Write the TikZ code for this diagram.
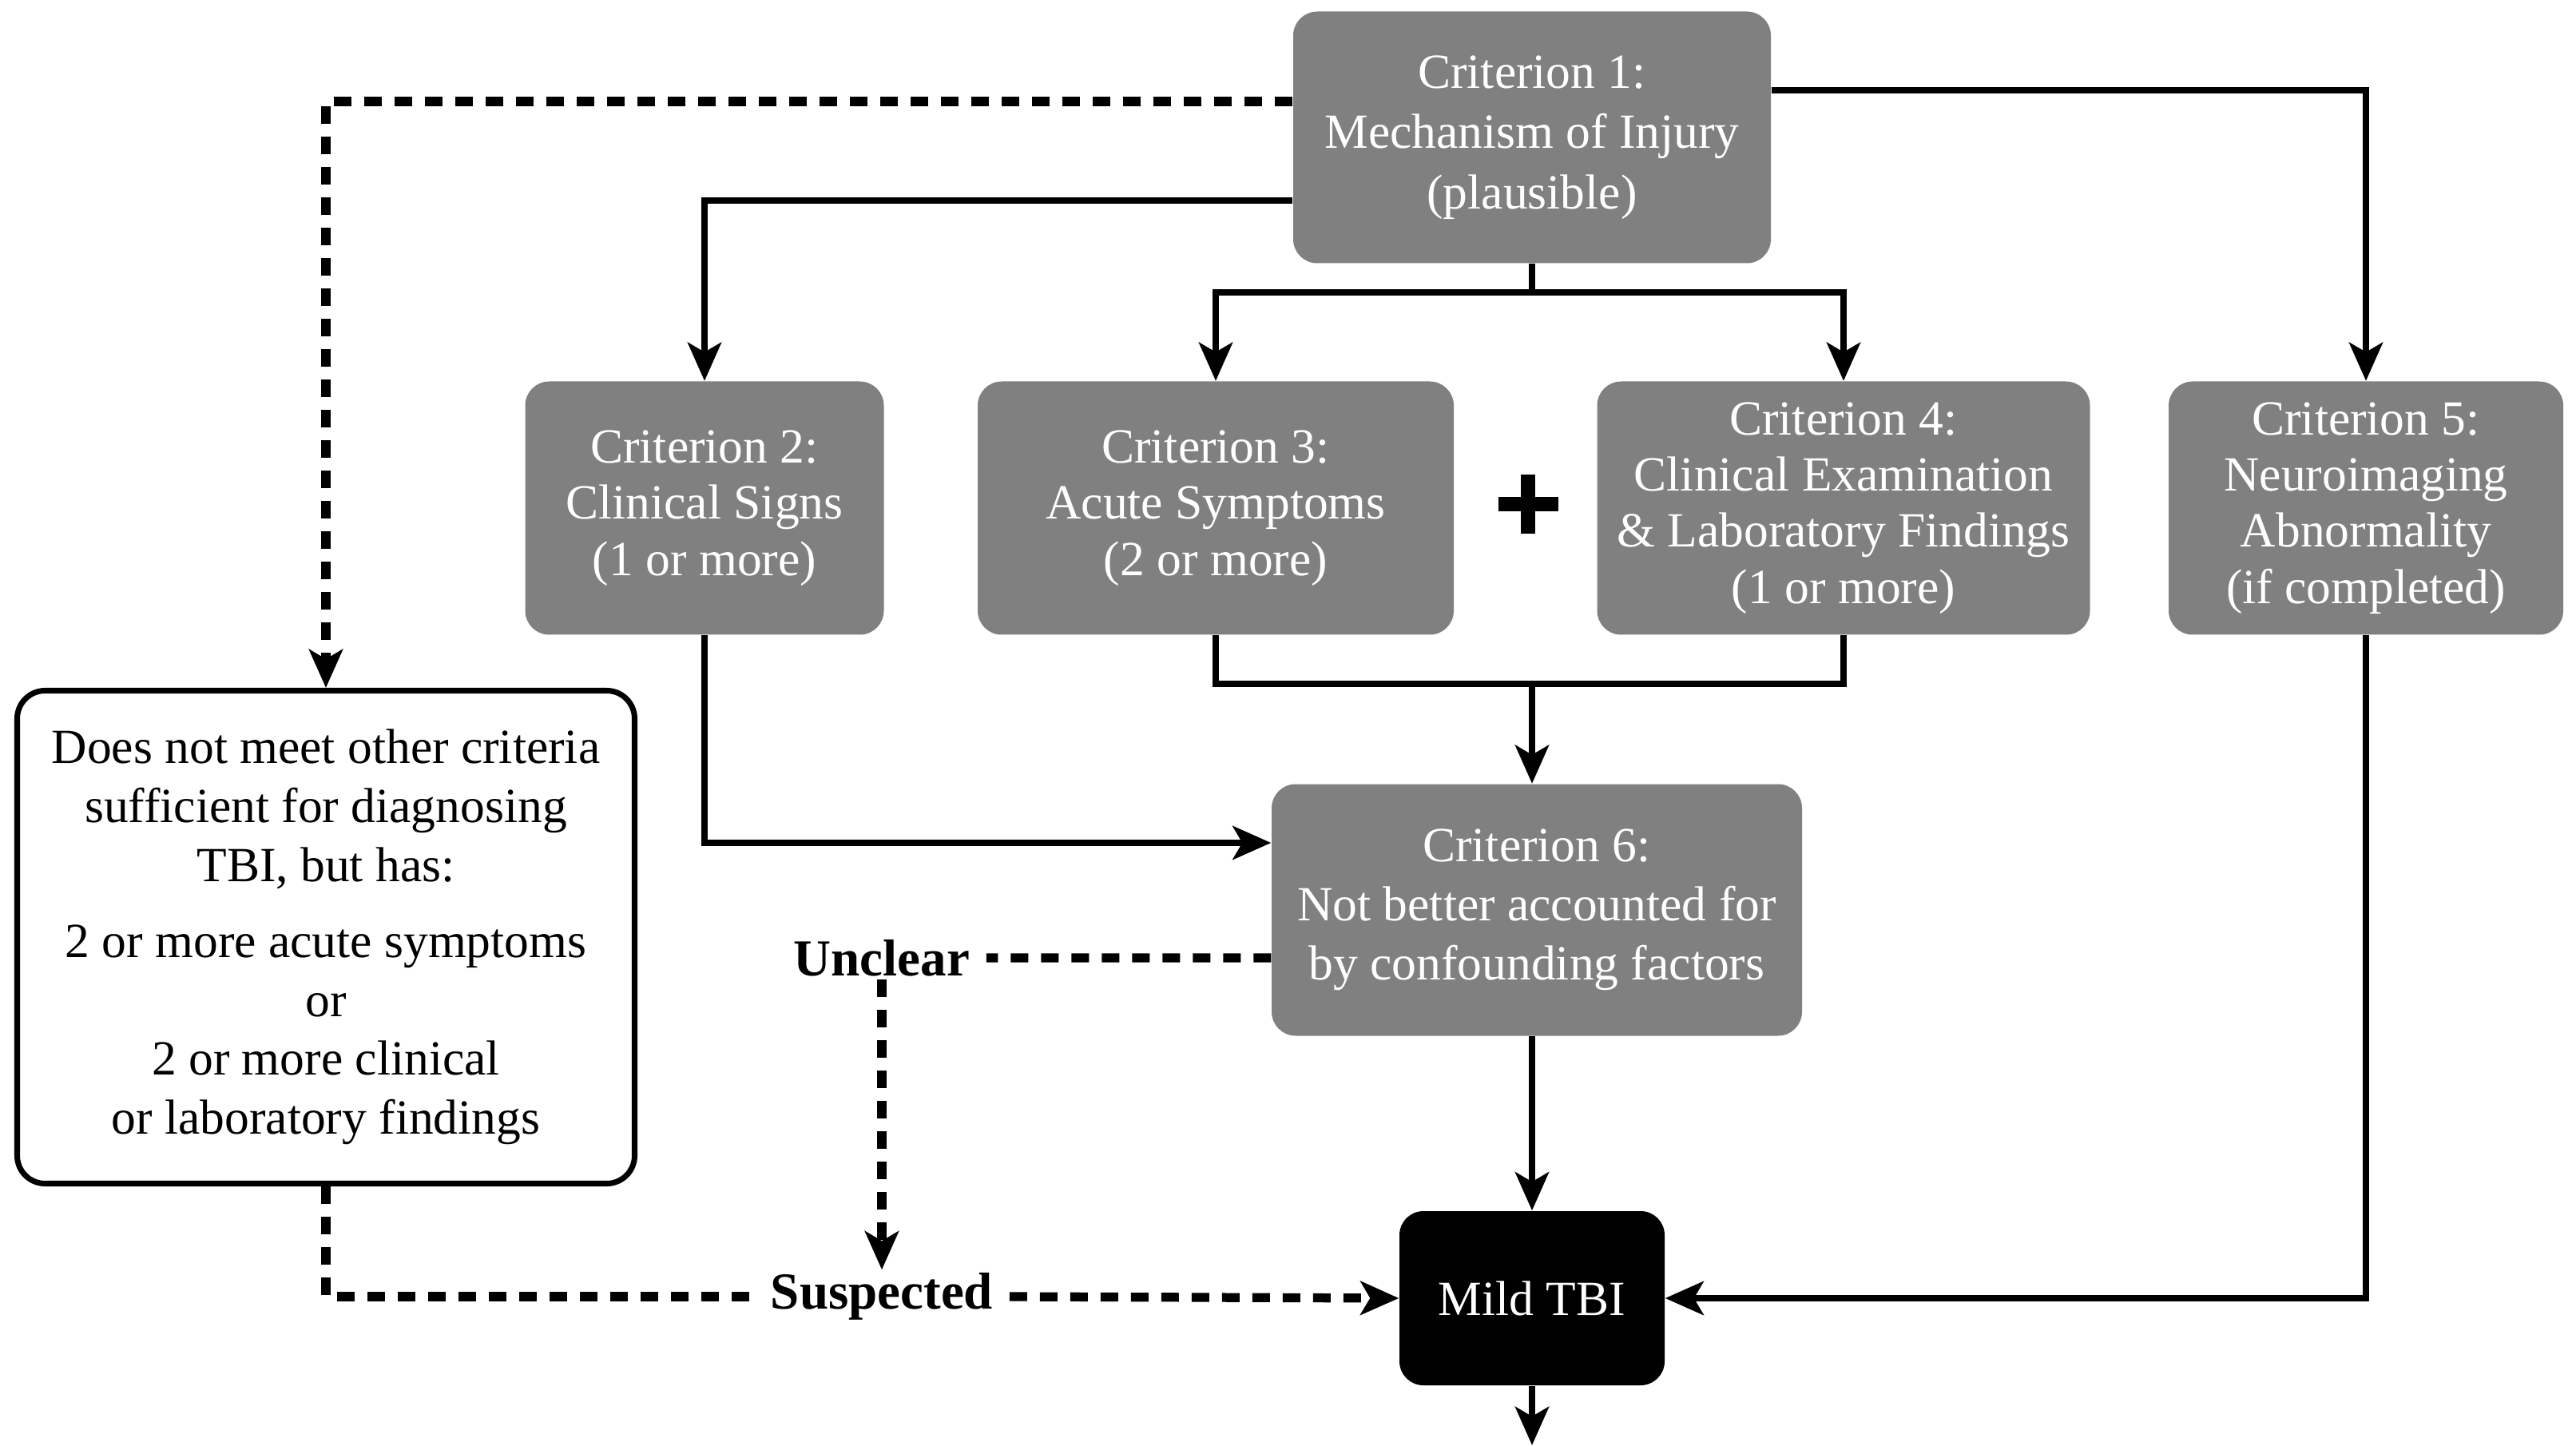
\documentclass[tikz,border=0pt]{standalone}
\usepackage{fontspec}
\setmainfont{Liberation Serif}
\usetikzlibrary{arrows.meta}

\begin{document}
\begin{tikzpicture}[
		crit/.style={rectangle, rounded corners=0.3cm, fill=black!50, text=white, align=center, minimum height=3.15cm, inner sep=2pt, font=\fontsize{17.5}{20}\selectfont},
		other/.style={rectangle, rounded corners=0.35cm, fill=white, draw=black, line width=2pt, align=center, minimum width=7.73cm, minimum height=6.17cm, font=\fontsize{17.5}{21}\selectfont},
		result/.style={rectangle, rounded corners=0.3cm, fill=black, text=white, minimum width=3.32cm, minimum height=2.18cm, font=\fontsize{17.5}{21}\selectfont},
		tag/.style={inner xsep=0.2cm, inner ysep=1pt, font=\fontsize{18.5}{21}\selectfont\bfseries},
		tip/.style={-{Stealth[length=0.48cm, width=0.42cm, inset=0.12cm]}},
		solid line/.style={line width=2.3pt},
		dash line/.style={line width=3.2pt, dash pattern=on 0.22cm off 0.16cm},
	]
		\useasboundingbox (0, 0) rectangle (32.25, 18.09);
		
		% Criteria
		\node[crit, minimum width=5.98cm, font=\fontsize{17.5}{21.5}\selectfont] (c1) at (19.18, 16.37) {Criterion 1:\\Mechanism of Injury\\(plausible)};
		\node[crit, minimum width=4.49cm, minimum height=3.17cm] (c2) at (8.82, 11.73) {Criterion 2:\\Clinical Signs\\(1 or more)};
		\node[crit, minimum width=5.96cm, minimum height=3.17cm] (c3) at (15.22, 11.73) {Criterion 3:\\Acute Symptoms\\(2 or more)};
		\node[inner sep=0pt] (plus) at (19.13, 11.78) {\makebox[0pt]{\rule[-0.37cm]{0.18cm}{0.74cm}}\makebox[0pt]{\rule[-0.09cm]{0.75cm}{0.18cm}}};
		\node[crit, minimum width=6.17cm, minimum height=3.17cm] (c4) at (23.08, 11.73) {Criterion 4:\\Clinical Examination\\\& Laboratory Findings\\(1 or more)};
		\node[crit, minimum width=4.94cm, minimum height=3.17cm] (c5) at (29.62, 11.73) {Criterion 5:\\Neuroimaging\\Abnormality\\(if completed)};
		\node[crit, minimum width=6.64cm, font=\fontsize{17.5}{21}\selectfont] (c6) at (19.24, 6.70) {Criterion 6:\\Not better accounted for\\by confounding factors};
		
		% Other paths
		\node[other] (miss) at (4.08, 6.36) {Does not meet other criteria\\sufficient for diagnosing\\TBI, but has:\\[6pt]2 or more acute symptoms\\or\\2 or more clinical\\or laboratory findings};
		\node[result] (mild) at (19.18, 1.84) {Mild TBI};
		\node[tag] (unclear) at (11.04, 6.10) {Unclear};
		\node[tag] (suspected) at (11.04, 1.86) {Suspected};
		
		\coordinate (split) at (19.18, 14.43);
		\coordinate (join) at (19.18, 9.53);
		\coordinate (out) at (19.18, 0);
		
		% Connect
		\draw[dash line, tip] ([yshift=4.5mm]c1.west) -| (miss.north);
		\draw[solid line, tip] ([yshift=-7.9mm]c1.west) -| (c2.north);
		\draw[solid line] (c1.south) -- (split);
		\draw[solid line, tip] (split) -| (c3.north);
		\draw[solid line, tip] (split) -| (c4.north);
		\draw[solid line, tip] ([yshift=5.9mm]c1.east) -| (c5.north);
		\draw[solid line] (c3.south) |- (join) -| (c4.south);
		\draw[solid line, tip] (join) -- (c6.north -| join);
		\draw[solid line, tip] (c2.south) |- ([yshift=8.4mm]c6.west);
		\draw[dash line] ([yshift=-6mm]c6.west) -- (unclear.east);
		\draw[dash line, tip] (unclear.south) -- (suspected.north);
		\draw[dash line] (miss.south) |- (suspected.west);
		\draw[dash line, tip] (suspected.east) -- (mild.west);
		\draw[solid line, tip] (c6.south -| mild.north) -- (mild.north);
		\draw[solid line, tip] (c5.south) |- (mild.east);
		\draw[solid line, tip] (mild.south) -- (out);
		
	\end{tikzpicture}
\end{document}
